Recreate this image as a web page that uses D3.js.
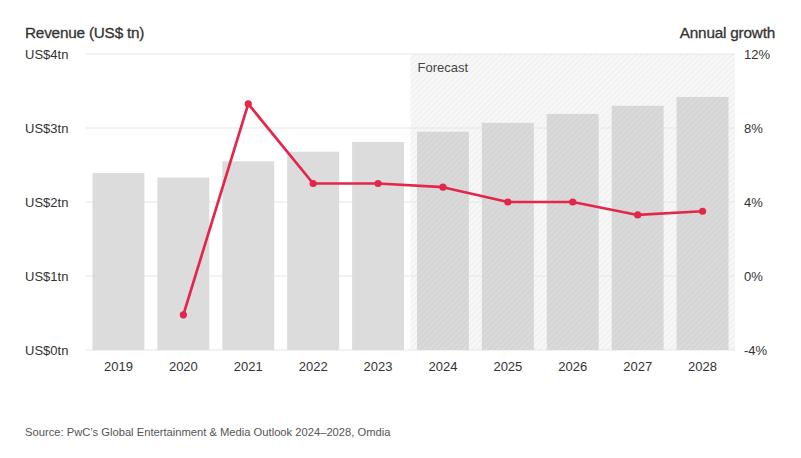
<!DOCTYPE html>
<html><head><meta charset="utf-8">
<script src="https://cdn.jsdelivr.net/npm/d3@7"></script>
<style>
body{margin:0;background:#fff;}
text{font-family:"Liberation Sans",Arial,Helvetica,sans-serif;}
</style></head>
<body><svg id="c" width="801" height="458"></svg>
<script>
const years = ["2019","2020","2021","2022","2023","2024","2025","2026","2027","2028"];
const revenue = [2.39,2.33,2.55,2.68,2.81,2.95,3.07,3.19,3.30,3.42];
const growth = [null,-2.1,9.3,5.0,5.0,4.8,4.0,4.0,3.3,3.5];
const forecastStart = "2024";
const leftTicks = [0,1,2,3,4];
const rightTicks = [-4,0,4,8,12];

const svg = d3.select("#c");
const x = d3.scaleBand().domain(years).range([86,735]).paddingInner(0.2).paddingOuter(0.1);
const yL = d3.scaleLinear().domain([0,4]).range([350,54]);
const yR = d3.scaleLinear().domain([-4,12]).range([350,54]);

const defs = svg.append("defs");
const p1 = defs.append("pattern").attr("id","hbg").attr("patternUnits","userSpaceOnUse")
  .attr("width",4).attr("height",4).attr("patternTransform","rotate(45)");
p1.append("rect").attr("width",4).attr("height",4).attr("fill","#f7f7f7");
p1.append("line").attr("x1",0).attr("y1",0).attr("x2",0).attr("y2",4).attr("stroke","#ebebeb").attr("stroke-width",1.5);
const p2 = defs.append("pattern").attr("id","hbar").attr("patternUnits","userSpaceOnUse")
  .attr("width",4).attr("height",4).attr("patternTransform","rotate(45)");
p2.append("rect").attr("width",4).attr("height",4).attr("fill","#d9d9d9");
p2.append("line").attr("x1",0).attr("y1",0).attr("x2",0).attr("y2",4).attr("stroke","#d0d0d0").attr("stroke-width",1.5);

// forecast region
const fx = x(forecastStart) - x.step()*x.paddingInner()/2;
svg.append("rect").attr("x",fx).attr("y",yL(4)).attr("width",735-fx).attr("height",yL(0)-yL(4)).attr("fill","url(#hbg)");

// gridlines
svg.append("g").selectAll("line").data(leftTicks).join("line")
  .attr("x1",86).attr("x2",735).attr("y1",d=>yL(d)).attr("y2",d=>yL(d))
  .attr("stroke","#e6e6e6").attr("stroke-width",1);

// bars
svg.append("g").selectAll("rect").data(years).join("rect")
  .attr("x",d=>x(d)).attr("width",x.bandwidth())
  .attr("y",(d,i)=>yL(revenue[i])).attr("height",(d,i)=>yL(0)-yL(revenue[i]))
  .attr("fill",(d,i)=> years.indexOf(d)>=years.indexOf(forecastStart) ? "url(#hbar)" : "#dcdcdc");

// left axis labels
const yAxL = d3.axisLeft(yL).tickValues(leftTicks).tickFormat(d=>"US$"+d+"tn").tickSize(0);
const gL = svg.append("g").attr("transform","translate(25,0)").call(yAxL);
gL.select(".domain").remove();
gL.selectAll("text").attr("text-anchor","start").attr("x",0).attr("dy","0.35em")
  .attr("font-size",13).attr("fill","#333").style("font-family","'Liberation Sans',Arial,sans-serif");

// right axis labels
const yAxR = d3.axisRight(yR).tickValues(rightTicks).tickFormat(d=>d+"%").tickSize(0);
const gR = svg.append("g").attr("transform","translate(744,0)").call(yAxR);
gR.select(".domain").remove();
gR.selectAll("text").attr("x",0).attr("dy","0.35em")
  .attr("font-size",13).attr("fill","#333").style("font-family","'Liberation Sans',Arial,sans-serif");

// x axis
const xAx = d3.axisBottom(x).tickSize(0);
const gX = svg.append("g").attr("transform","translate(0,359)").call(xAx);
gX.select(".domain").remove();
gX.selectAll("text").attr("font-size",13).attr("fill","#333").attr("dy","0.71em")
  .style("font-family","'Liberation Sans',Arial,sans-serif");

// line
const pts = years.map((d,i)=>({d,v:growth[i]})).filter(p=>p.v!==null);
const cx = d=>x(d)+x.bandwidth()/2;
svg.append("path").datum(pts)
  .attr("d",d3.line().x(p=>cx(p.d)).y(p=>yR(p.v)))
  .attr("fill","none").attr("stroke","#e3264a").attr("stroke-width",2.7).attr("stroke-linejoin","round");
svg.append("g").selectAll("circle").data(pts).join("circle")
  .attr("cx",p=>cx(p.d)).attr("cy",p=>yR(p.v)).attr("r",3.6).attr("fill","#e3264a");

// titles
svg.append("text").attr("x",25).attr("y",38).text("Revenue (US$ tn)")
  .attr("font-size",15.3).attr("fill","#333").attr("stroke","#333").attr("stroke-width",0.3).style("letter-spacing","-0.2px");
svg.append("text").attr("x",775).attr("y",38).attr("text-anchor","end").text("Annual growth")
  .attr("font-size",15.3).attr("fill","#333").attr("stroke","#333").attr("stroke-width",0.3).style("letter-spacing","-0.2px");
svg.append("text").attr("x",fx+7).attr("y",72).text("Forecast").attr("font-size",13).attr("fill","#444");
svg.append("text").attr("x",25).attr("y",436).text("Source: PwC’s Global Entertainment & Media Outlook 2024–2028, Omdia")
  .attr("font-size",11.2).attr("fill","#555");
</script></body></html>
